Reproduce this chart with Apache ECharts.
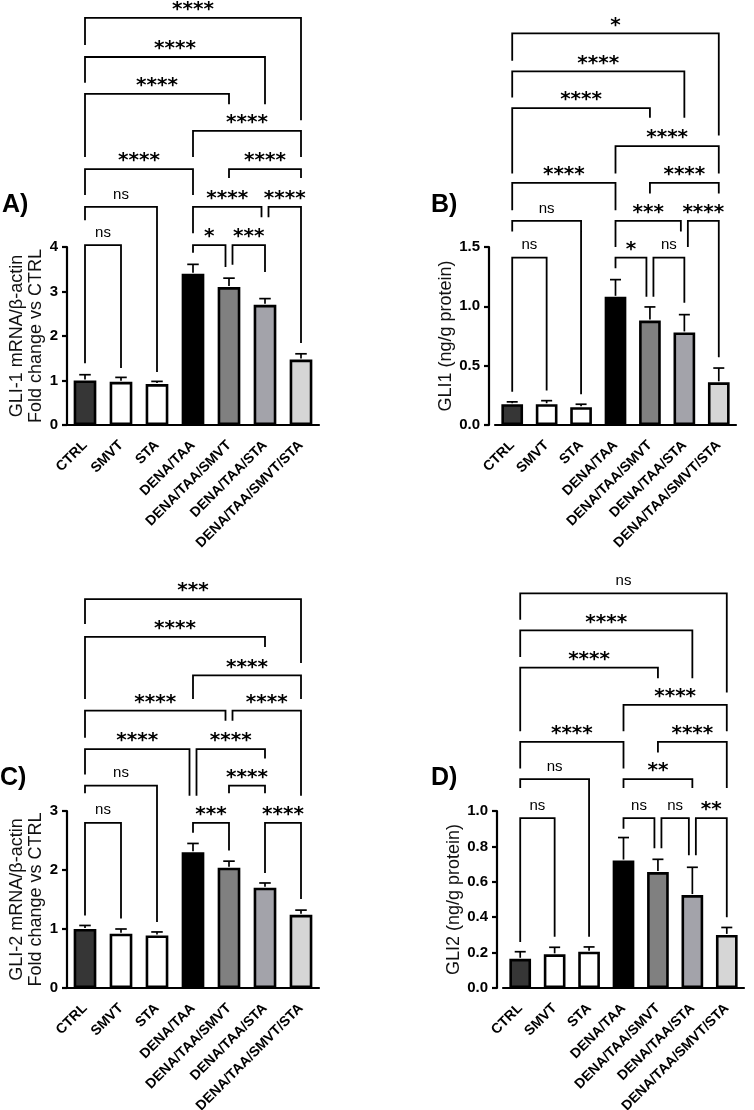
<!DOCTYPE html>
<html>
<head>
<meta charset="utf-8">
<script src="https://cdn.jsdelivr.net/npm/echarts@6/dist/echarts.min.js"></script>
<style>
html, body { margin: 0; padding: 0; background: #fff; }
#chart { width: 754px; height: 1110px; }
</style>
</head>
<body>
<div id="chart"></div>
<script>
var groups = ['CTRL', 'SMVT', 'STA', 'DENA/TAA', 'DENA/TAA/SMVT', 'DENA/TAA/STA', 'DENA/TAA/SMVT/STA'];

// A) GLI-1 mRNA：均值 / 误差上沿
var gli1mRNA = [1.0, 0.97, 0.92, 3.4, 3.1, 2.7, 1.47];
var gli1mRNATop = [1.13, 1.07, 0.98, 3.61, 3.3, 2.84, 1.6];
var gli1mRNAAxis = [0, 4, 1];
// 显著性括号: [起, 止, 横线, 左脚, 右脚, 标记]
var gli1mRNASig = [
    [0, 6, 9.15, 8.54, 6.85, '****'],
    [0, 5, 8.27, 7.69, 7.21, '****'],
    [0, 4, 7.44, 6.02, 7.21, '****'],
    [3, 6, 6.61, 6.02, 6.02, '****'],
    [4, 6, 5.75, 5.55, 5.55, '****'],
    [0, 3, 5.75, 5.17, 5.17, '****'],
    [0, 2, 4.90, 4.60, 1.19, 'ns'],
    [3, 5, 4.90, 4.31, 4.67, '****'],
    [5, 6, 4.90, 4.67, 1.84, '****'],
    [0, 1, 4.04, 1.39, 1.28, 'ns'],
    [3, 4, 4.04, 3.87, 3.55, '*'],
    [4, 5, 4.04, 3.60, 3.44, '***']
];

// B) GLI1 蛋白
var gli1Protein = [0.175, 0.175, 0.15, 1.08, 0.88, 0.78, 0.36];
var gli1ProteinTop = [0.195, 0.205, 0.175, 1.225, 0.995, 0.93, 0.48];
var gli1ProteinAxis = [0, 1.5, 0.5];
var gli1ProteinSig = [
    [0, 6, 3.30, 3.07, 2.44, '*'],
    [0, 5, 2.98, 2.76, 2.59, '****'],
    [0, 4, 2.67, 2.12, 2.59, '****'],
    [3, 6, 2.35, 2.12, 2.12, '****'],
    [4, 6, 2.04, 1.95, 1.95, '****'],
    [0, 3, 2.04, 1.81, 1.81, '****'],
    [0, 2, 1.72, 1.63, 0.26, 'ns'],
    [3, 5, 1.72, 1.50, 1.63, '***'],
    [5, 6, 1.72, 1.50, 0.57, '****'],
    [0, 1, 1.41, 0.28, 0.29, 'ns'],
    [3, 4, 1.41, 1.32, 1.08, '*'],
    [4, 5, 1.41, 1.08, 1.03, 'ns']
];

// C) GLI-2 mRNA
var gli2mRNA = [1.0, 0.92, 0.89, 2.30, 2.04, 1.70, 1.24];
var gli2mRNATop = [1.06, 1.0, 0.95, 2.45, 2.15, 1.78, 1.32];
var gli2mRNAAxis = [0, 3, 1];
var gli2mRNASig = [
    [0, 6, 6.59, 6.17, 5.51, '***'],
    [0, 5, 5.95, 4.90, 5.78, '****'],
    [3, 6, 5.30, 4.90, 4.90, '****'],
    [0, 4, 4.70, 4.24, 4.53, '****'],
    [4, 6, 4.70, 4.53, 3.26, '****'],
    [0, 3, 4.05, 3.62, 3.26, '****'],
    [3, 5, 4.05, 3.26, 3.89, '****'],
    [0, 2, 3.43, 3.30, 1.12, 'ns'],
    [4, 5, 3.43, 3.30, 3.30, '****'],
    [0, 1, 2.80, 1.23, 1.18, 'ns'],
    [3, 4, 2.80, 2.63, 2.33, '***'],
    [5, 6, 2.80, 1.95, 1.51, '****']
];

// D) GLI2 蛋白
var gli2Protein = [0.165, 0.19, 0.205, 0.72, 0.655, 0.525, 0.30];
var gli2ProteinTop = [0.205, 0.23, 0.232, 0.85, 0.727, 0.682, 0.342];
var gli2ProteinAxis = [0, 1.0, 0.2];
var gli2ProteinSig = [
    [0, 6, 2.23, 2.08, 1.67, 'ns'],
    [0, 5, 2.02, 1.87, 1.75, '****'],
    [0, 4, 1.81, 1.45, 1.75, '****'],
    [3, 6, 1.60, 1.45, 1.45, '****'],
    [4, 6, 1.39, 1.33, 1.13, '****'],
    [0, 3, 1.39, 1.24, 1.24, '****'],
    [0, 2, 1.18, 1.13, 0.29, 'ns'],
    [3, 5, 1.18, 1.13, 1.13, '**'],
    [0, 1, 0.96, 0.26, 0.29, 'ns'],
    [3, 4, 0.96, 0.90, 0.79, 'ns'],
    [4, 5, 0.96, 0.79, 0.75, 'ns'],
    [5, 6, 0.96, 0.75, 0.40, '**']
];

var barColors = ['#363636', '#ffffff', '#ffffff', '#000000', '#808080', '#a3a3aa', '#d6d6d6'];
var FONT = 'Arial, "Liberation Sans", Helvetica, sans-serif';
var STAR_FONT = '"DejaVu Sans", sans-serif';

var panels = [
    { tag: 'A)', vals: gli1mRNA, tops: gli1mRNATop, axis: gli1mRNAAxis, sig: gli1mRNASig, fixed: 0,
      name: 'GLI-1 mRNA/β-actin\nFold change vs CTRL', grid: { left: 67, top: 247, width: 252, height: 178 }, off: 0, gap: 21, tagPos: [2, 193] },
    { tag: 'B)', vals: gli1Protein, tops: gli1ProteinTop, axis: gli1ProteinAxis, sig: gli1ProteinSig, fixed: 1,
      name: 'GLI1 (ng/g protein)', grid: { left: 495, top: 247, width: 241, height: 178 }, off: 6, gap: 31, tagPos: [431, 193] },
    { tag: 'C)', vals: gli2mRNA, tops: gli2mRNATop, axis: gli2mRNAAxis, sig: gli2mRNASig, fixed: 0,
      name: 'GLI-2 mRNA/β-actin\nFold change vs CTRL', grid: { left: 67, top: 811, width: 252, height: 177 }, off: 0, gap: 20, tagPos: [0, 766] },
    { tag: 'D)', vals: gli2Protein, tops: gli2ProteinTop, axis: gli2ProteinAxis, sig: gli2ProteinSig, fixed: 1,
      name: 'GLI2 (ng/g protein)', grid: { left: 503, top: 811, width: 241, height: 177 }, off: 6, gap: 33, tagPos: [431, 766] }
];

// 相邻括号在同一高度共用端点时，左右各让开一点
function shiftsFor(sig, idx) {
    var b = sig[idx], s = [0, 0];
    sig.forEach(function (c, k) {
        if (k === idx || Math.abs(c[2] - b[2]) > 1e-6) return;
        if (c[1] === b[0]) s[0] = 3.5;
        if (c[0] === b[1]) s[1] = -3.5;
    });
    return s;
}

var option = {
    animation: false,
    backgroundColor: '#ffffff',
    title: [],
    grid: [],
    xAxis: [],
    yAxis: [],
    series: []
};

panels.forEach(function (p, k) {
    option.title.push({
        text: p.tag, left: p.tagPos[0], top: p.tagPos[1], padding: 0,
        textStyle: { fontFamily: FONT, fontSize: 25, fontWeight: 'bold', color: '#000' }
    });
    option.grid.push({
        left: p.grid.left, top: p.grid.top, width: p.grid.width, height: p.grid.height,
        containLabel: false, outerBoundsMode: 'none'
    });
    option.xAxis.push({
        type: 'category', gridIndex: k, data: groups,
        axisLine: { lineStyle: { color: '#000', width: 2.2 } },
        axisTick: { alignWithLabel: true, length: 6, lineStyle: { color: '#000', width: 2.2 } },
        axisLabel: { rotate: 45, interval: 0, margin: 18, color: '#000', fontFamily: FONT, fontSize: 14, fontWeight: 'bold' },
        splitLine: { show: false }
    });
    option.yAxis.push({
        type: 'value', gridIndex: k, min: p.axis[0], max: p.axis[1], interval: p.axis[2], offset: p.off,
        name: p.name, nameLocation: 'middle', nameGap: p.gap,
        nameTextStyle: { color: '#111', fontFamily: FONT, fontSize: 18, lineHeight: 19 },
        axisLine: { show: true, lineStyle: { color: '#000', width: 2.2 } },
        axisTick: { show: true, length: 5, lineStyle: { color: '#000', width: 2.2 } },
        axisLabel: {
            color: '#000', fontFamily: FONT, fontSize: 15, fontWeight: 'bold', margin: 9,
            formatter: function (v) { return v.toFixed(p.fixed); }
        },
        splitLine: { show: false }
    });
    option.series.push({
        type: 'bar', xAxisIndex: k, yAxisIndex: k, barWidth: '63%', z: 2,
        data: p.vals.map(function (v, i) {
            return { value: v, itemStyle: { color: barColors[i], borderColor: '#000', borderWidth: 2.6 } };
        })
    });
    option.series.push({
        type: 'custom', xAxisIndex: k, yAxisIndex: k, z: 3, clip: false, silent: true,
        data: p.vals.map(function (v, i) { return [i, v, p.tops[i]]; }),
        renderItem: function (params, api) {
            var p0 = api.coord([api.value(0), api.value(1)]);
            var p1 = api.coord([api.value(0), api.value(2)]);
            var half = api.size([1, 0])[0] * 0.16;
            var st = { stroke: '#000', lineWidth: 1.7 };
            return {
                type: 'group',
                children: [
                    { type: 'line', shape: { x1: p0[0], y1: p0[1] - 1, x2: p1[0], y2: p1[1] }, style: st },
                    { type: 'line', shape: { x1: p1[0] - half, y1: p1[1], x2: p1[0] + half, y2: p1[1] }, style: st }
                ]
            };
        }
    });
    option.series.push({
        type: 'custom', xAxisIndex: k, yAxisIndex: k, z: 4, clip: false, silent: true,
        data: p.sig.map(function (b) { return [b[0], b[2]]; }),
        renderItem: function (params, api) {
            var b = p.sig[params.dataIndex];
            var s = shiftsFor(p.sig, params.dataIndex);
            var xL = api.coord([b[0], b[2]])[0] + s[0];
            var xR = api.coord([b[1], b[2]])[0] + s[1];
            var yLine = api.coord([b[0], b[2]])[1];
            var yL = api.coord([b[0], b[3]])[1];
            var yR = api.coord([b[1], b[4]])[1];
            var stars = b[5] !== 'ns';
            return {
                type: 'group',
                children: [
                    {
                        type: 'polyline',
                        shape: { points: [[xL, yL], [xL, yLine], [xR, yLine], [xR, yR]] },
                        style: { fill: null, stroke: '#000', lineWidth: 1.8 }
                    },
                    {
                        type: 'text', x: (xL + xR) / 2, y: yLine - (stars ? -2 : 5),
                        style: {
                            text: b[5],
                            fill: '#000', fontFamily: stars ? STAR_FONT : FONT,
                            fontSize: stars ? 20 : 15, fontWeight: stars ? 'bold' : 'normal',
                            align: 'center', verticalAlign: 'bottom'
                        }
                    }
                ]
            };
        }
    });
});

var myChart = echarts.init(document.getElementById('chart'));
myChart.setOption(option);
</script>
</body>
</html>
